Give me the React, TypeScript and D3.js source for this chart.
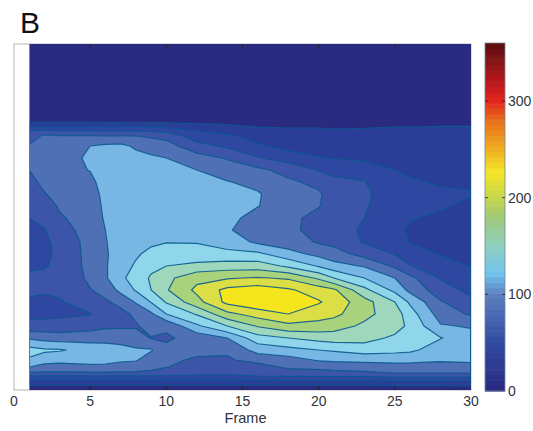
import React, { useEffect, useRef } from "react";
import * as d3 from "d3";

// Frame numbers of the sampled columns
const frames = [1, 2, 3, 5, 6, 7, 8, 9, 10, 12, 14, 16, 18, 20, 21, 23, 25, 26, 28, 30];
// Vertical bin of every row, top row first
const bins = [346, 274, 268, 263, 259, 254, 244, 232, 220, 208, 196, 184, 172, 160, 148, 136, 124, 112, 100, 88, 76, 64, 52, 40, 30, 23, 17, 13, 9, 4, 0];

// Intensity, one list per frame (top to bottom)
const f1 = [10,12,22,44,68,77,90,97,88,82,77,71,66,62,58,60,63,70,72,62,60,72,107,140,129,110,85,58,40,20,6];
const f2 = [10,12,22,44,72,92,98,100,97,93,87,80,72,65,61,60,64,72,69,60,60,74,102,135,122,100,85,58,40,18,6];
const f3 = [10,12,20,44,66,90,100,102,100,97,94,90,86,80,74,72,72,72,70,64,62,74,99,134,118,100,85,58,40,18,6];
const f5 = [10,12,20,44,66,90,110,113,111,103,98,97,96,96,95,95,94,92,87,76,65,80,100,125,120,104,85,58,40,18,6];
const f6 = [10,12,19,44,66,88,114,124,125,122,118,115,113,110,109,108,108,107,96,85,78,84,101,122,118,104,85,58,40,18,6];
const f7 = [10,12,19,44,66,88,116,124,125,124,124,123,122,120,118,118,122,128,116,94,82,85,100,118,114,100,85,58,40,18,6];
const f8 = [10,12,18,44,66,88,106,118,122,123,124,124,124,124,125,129,135,140,134,112,92,86,96,113,112,98,85,58,40,18,6];
const f9 = [10,12,18,43,64,85,100,114,120,122,124,124,125,126,128,138,148,157,154,133,106,96,87,112,98,92,85,58,40,18,6];
const f10 = [10,12,18,42,60,82,96,110,116,120,123,125,127,129,131,146,154,170,174,156,132,92,85,93,91,89,76,60,40,18,6];
const f12 = [10,13,18,30,44,52,75,97,110,115,118,120,123,127,131,140,160,192,203,190,156,128,96,92,86,76,72,60,40,18,6];
const f14 = [10,14,18,26,36,48,62,86,100,111,115,117,118,112,122,138,165,196,226,226,192,154,110,92,85,76,70,60,40,18,6];
const f16 = [10,14,18,22,27,34,48,68,93,104,112,111,100,100,106,137,165,200,232,238,208,178,145,118,96,78,72,64,40,18,6];
const f18 = [10,14,17,21,25,28,36,56,80,92,96,95,93,92,98,118,150,195,223,240,220,192,154,125,101,92,78,64,40,18,6];
const f20 = [10,13,16,21,25,27,32,46,65,82,91,89,82,82,86,104,130,172,210,222,208,190,162,132,112,94,80,64,40,18,6];
const f21 = [10,13,16,20,24,26,30,43,60,71,78,80,78,78,82,97,118,154,202,212,204,185,165,135,114,96,82,64,40,18,6];
const f23 = [10,13,16,21,24,27,30,40,55,67,70,68,66,62,64,80,108,132,160,185,182,172,162,142,116,98,84,64,40,18,6];
const f25 = [10,13,16,22,25,27,30,37,44,50,54,54,50,48,54,65,84,110,126,154,165,163,150,138,118,100,88,66,42,20,6];
const f26 = [10,13,16,22,25,27,30,35,41,46,48,47,45,42,43,55,67,94,104,128,142,149,150,136,117,100,88,66,42,20,6];
const f28 = [10,13,16,23,25,27,30,33,37,42,47,46,41,38,38,43,54,64,76,90,100,112,133,122,113,100,88,66,42,20,6];
const f30 = [10,13,16,23,25,27,30,33,37,42,45,40,35,33,34,38,43,52,60,72,85,108,118,118,116,100,88,66,44,22,6];
const columns = [f1, f2, f3, f5, f6, f7, f8, f9, f10, f12, f14, f16, f18, f20, f21, f23, f25, f26, f28, f30];

const levels = [22, 44, 66, 88, 110, 132, 154, 176, 198, 220];
const bandColors = ["#2a3c97", "#2f47a0", "#3c55a8", "#5070b5", "#78b6e4", "#90d6ea", "#9fd7bc", "#a9d27d", "#dbdf45", "#f5e51e"];
const baseColor = "#2b2a80";

const xTicks = [0, 5, 10, 15, 20, 25, 30];
const barTicks = [0, 100, 200, 300];
const barStops = [0, 50, 100, 122, 150, 180, 200, 226, 250, 280, 300, 320, 360];
const barColors = ["#2b2a80", "#2f4aa0", "#5d80c0", "#70c4ee", "#8fd0c0", "#a0c878", "#c4d64c", "#f5e62a", "#efb020", "#e8701f", "#e4261f", "#b81a1f", "#5a0f10"];
const xTitle = "Frame";
const panelLabel = "B";

const FONT = "'Liberation Sans', Arial, sans-serif";
const INK = "#30343c";
const plot = { left: 14, right: 471, top: 44, bottom: 390 };
const bar = { left: 485, right: 505, top: 43, bottom: 391 };

export default function App() {
  const ref = useRef<SVGSVGElement>(null);
  useEffect(() => {
    const svg = d3.select(ref.current);
    svg.selectAll("*").remove();
    const x = d3.scaleLinear().domain([0, 30]).range([plot.left, plot.right]);
    const y = d3.scaleLinear().domain([0, 346]).range([plot.bottom, plot.top]);
    const nx = columns.length, ny = bins.length;
    const flat: number[] = [];
    for (let r = 0; r < ny; r++) for (let c = 0; c < nx; c++) flat.push(columns[c][r]);
    const colToFrame = d3.scaleLinear().domain(d3.range(nx)).range(frames).clamp(true);
    const rowToBin = d3.scaleLinear().domain(d3.range(ny)).range(bins).clamp(true);
    const path = d3.geoPath(d3.geoTransform({
      point(px: number, py: number) {
        (this as any).stream.point(x(colToFrame(px - 0.5)), y(rowToBin(py - 0.5)));
      },
    }));
    const contours = d3.contours().size([nx, ny]).thresholds(levels)(flat);

    const defs = svg.append("defs");
    defs.append("clipPath").attr("id", "plotClip").append("rect")
      .attr("x", x(1)).attr("y", plot.top).attr("width", x(30) - x(1)).attr("height", plot.bottom - plot.top);
    const blur = defs.append("filter").attr("id", "soft").attr("x", "-2%").attr("y", "-2%").attr("width", "104%").attr("height", "104%");
    blur.append("feGaussianBlur").attr("stdDeviation", 0.5);

    // axes box (white gap from frame 0 to 1)
    svg.append("rect").attr("x", plot.left).attr("y", plot.top)
      .attr("width", plot.right - plot.left).attr("height", plot.bottom - plot.top)
      .attr("fill", "#fff").attr("stroke", "#b9b4b8").attr("stroke-width", 1);

    const g = svg.append("g").attr("clip-path", "url(#plotClip)");
    const inner = g.append("g").attr("filter", "url(#soft)");
    inner.append("rect").attr("x", x(1)).attr("y", plot.top).attr("width", x(30) - x(1)).attr("height", plot.bottom - plot.top).attr("fill", baseColor);
    contours.forEach((c, i) => {
      inner.append("path").attr("d", path(c as any)).attr("fill", bandColors[i]);
    });
    contours.forEach((c) => {
      inner.append("path").attr("d", path(c as any)).attr("fill", "none")
        .attr("stroke", "#0a5a90").attr("stroke-opacity", 0.9).attr("stroke-width", 1.2);
    });

    // x ticks, inside top and bottom
    const ticks = svg.append("g");
    xTicks.forEach((t) => {
      if (t > 0 && t < 30) {
        ticks.append("line").attr("x1", x(t)).attr("x2", x(t)).attr("y1", plot.bottom).attr("y2", plot.bottom - 4).attr("stroke", "#222").attr("stroke-width", 0.8);
        ticks.append("line").attr("x1", x(t)).attr("x2", x(t)).attr("y1", plot.top).attr("y2", plot.top + 4).attr("stroke", "#222").attr("stroke-width", 0.8);
      }
      ticks.append("text").attr("x", x(t)).attr("y", 406).attr("text-anchor", "middle")
        .attr("font-family", FONT).attr("font-size", 14).attr("fill", INK).text(t);
    });
    ticks.append("text").attr("x", x(15.2)).attr("y", 423).attr("text-anchor", "middle")
      .attr("font-family", FONT).attr("font-size", 14.5).attr("fill", INK).text(xTitle);

    // colour bar
    const cy = d3.scaleLinear().domain([0, 360]).range([bar.bottom, bar.top]);
    const cmap = d3.scaleLinear<string>().domain(barStops).range(barColors).interpolate(d3.interpolateRgb);
    const steps = d3.range(0, 360, 360 / 64);
    const cb = svg.append("g");
    cb.append("g").attr("filter", "url(#soft)").selectAll("rect").data(steps).join("rect")
      .attr("x", bar.left).attr("width", bar.right - bar.left)
      .attr("y", (d) => cy(d + 360 / 64)).attr("height", cy(0) - cy(360 / 64) + 0.6)
      .attr("fill", (d) => cmap(d + 180 / 64));
    cb.append("rect").attr("x", bar.left).attr("y", bar.top).attr("width", bar.right - bar.left).attr("height", bar.bottom - bar.top)
      .attr("fill", "none").attr("stroke", "#6f8a96").attr("stroke-width", 0.8);
    barTicks.forEach((t) => {
      if (t > 0) {
        cb.append("line").attr("x1", bar.left).attr("x2", bar.left + 3).attr("y1", cy(t)).attr("y2", cy(t)).attr("stroke", "#222").attr("stroke-width", 0.8);
        cb.append("line").attr("x1", bar.right - 3).attr("x2", bar.right).attr("y1", cy(t)).attr("y2", cy(t)).attr("stroke", "#222").attr("stroke-width", 0.8);
      }
      cb.append("text").attr("x", 508).attr("y", cy(t) + 5).attr("font-family", FONT).attr("font-size", 14).attr("fill", INK).text(t);
    });

    svg.append("text").attr("x", 20).attr("y", 33).attr("font-family", FONT).attr("font-size", 30).attr("fill", "#111").text(panelLabel);
  }, []);
  return <svg ref={ref} width={533} height={431} style={{ position: "absolute", left: 0, top: 0, background: "#fff" }} />;
}
